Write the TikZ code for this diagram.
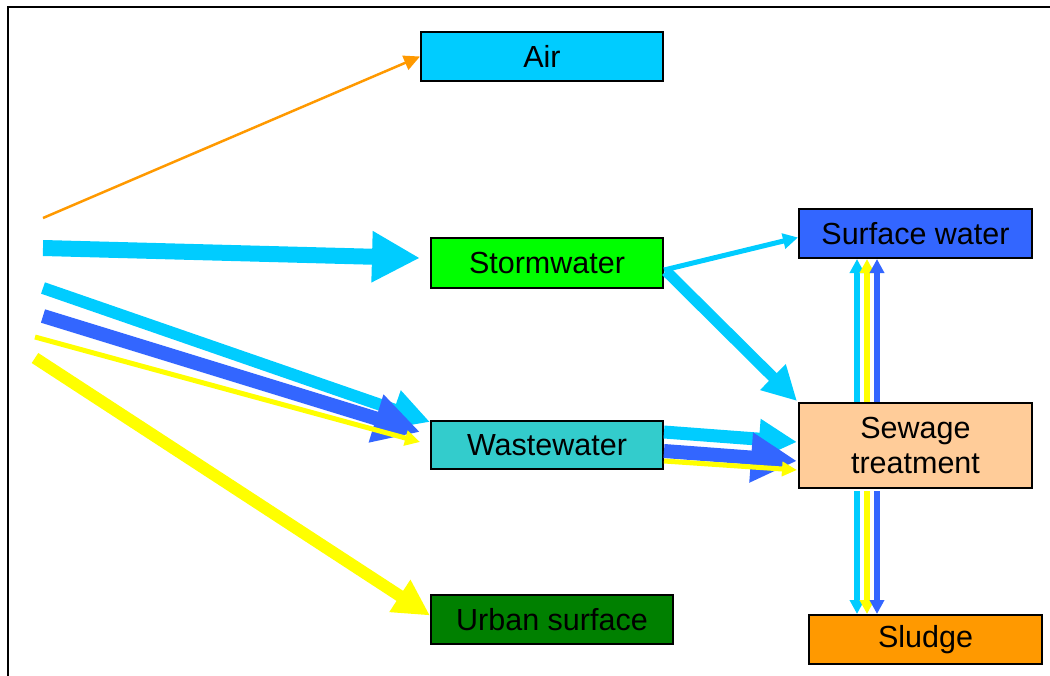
\documentclass[tikz,border=0pt]{standalone}
\usepackage{fontspec}
\setmainfont{Liberation Sans}
\usetikzlibrary{arrows.meta,calc}
\definecolor{cCyan}{HTML}{00CCFF}
\definecolor{cBlue}{HTML}{3366FF}
\definecolor{cYellow}{HTML}{FFFF00}
\definecolor{cOrange}{HTML}{FF9900}
\definecolor{cGreen}{HTML}{00FF00}
\definecolor{cDGreen}{HTML}{008000}
\definecolor{cTeal}{HTML}{33CCCC}
\definecolor{cPeach}{HTML}{FFCC99}
\tikzset{
  box/.style={draw=black, line width=2pt, rectangle, inner sep=0pt, align=center,
    font=\fontsize{30.5}{35}\selectfont},
  flow/.style n args={4}{draw=#1, line width=#2pt,
    -{Triangle[width=#3pt,length=#4pt]}, #1},
}
\begin{document}
\begin{tikzpicture}[x=1pt,y=-1pt]
\useasboundingbox (0,0) rectangle (1050,675);
\draw[line width=2pt] (8,680) -- (8,7) -- (1060,7);

\node[box, fill=cCyan, minimum width=242pt, minimum height=49pt] (air) at (542,56.5) {Air};
\node[box, fill=cGreen, minimum width=232pt, minimum height=50pt] (storm) at (547,263) {Stormwater};
\node[box, fill=cBlue, minimum width=233pt, minimum height=49pt] (surf) at (915.5,233.5) {Surface water};
\node[box, fill=cPeach, minimum width=233pt, minimum height=85pt] (sew) at (915.5,445.5) {Sewage\\treatment};
\node[box, fill=cTeal, minimum width=232pt, minimum height=48pt] (waste) at (547,445) {Wastewater};
\node[box, fill=cDGreen, minimum width=242pt, minimum height=49pt] (urban) at (552,619.5) {Urban surface};
\node[box, fill=cOrange, minimum width=233pt, minimum height=49pt] (sludge) at (925.5,639.5) {Sludge};

\coordinate (sO) at (43,218);
\coordinate (sC1) at (43,248);
\coordinate (sC2) at (43,288);
\coordinate (sB) at (43,316);
\coordinate (sY1) at (35,337);
\coordinate (sY2) at (35,358);

% sources
\draw[flow={cOrange}{2.5}{15}{16}] (sO) -- (air.west);
\draw[flow={cCyan}{16}{48}{48}] (sC1) -- ($(storm.west)+(-10,-5)$);
\draw[flow={cCyan}{12}{38}{38}] (sC2) -- ($(waste.north west)+(0,2)$);
\draw[flow={cBlue}{14}{47}{46}] (sB) -- ($(waste.west)+(-10,-13)$);
\draw[flow={cYellow}{5}{15}{15}] (sY1) -- ($(waste.west)+(-10,-3)$);
\draw[flow={cYellow}{12}{36}{36}] (sY2) -- ($(urban.west)+(0,-4)$);

% stormwater outflows
\draw[flow={cCyan}{5}{15}{15}] ($(storm.east)+(0,7)$) -- ($(surf.west)+(0,4)$);
\draw[flow={cCyan}{11}{34}{34}] ($(storm.east)+(2,8)$) -- ($(sew.north west)+(-1,-1)$);

% wastewater to sewage
\draw[flow={cCyan}{13}{38}{38}] ($(waste.east)+(0,-13)$) -- ($(sew.west)+(-1,-3.5)$);
\draw[flow={cBlue}{14}{47}{46}] ($(waste.east)+(0,6)$) -- ($(sew.west)+(-1,15.5)$);
\draw[flow={cYellow}{5}{14}{15}] ($(waste.east)+(0,16)$) -- ($(sew.west)+(-1,24.5)$);

% sewage up to surface water
\draw[flow={cCyan}{5.5}{14}{14}] ($(sew.north)+(-58.5,0)$) -- ($(surf.south)+(-58.5,0)$);
\draw[flow={cYellow}{5.5}{14}{14}] ($(sew.north)+(-48.5,0)$) -- ($(surf.south)+(-48.5,0)$);
\draw[flow={cBlue}{5.5}{14}{14}] ($(sew.north)+(-38.5,0)$) -- ($(surf.south)+(-38.5,0)$);

% sewage down to sludge
\draw[flow={cCyan}{5.5}{14}{14}] ($(sew.south)+(-58.5,2)$) -- ($(sludge.north)+(-68.5,0)$);
\draw[flow={cYellow}{5.5}{14}{14}] ($(sew.south)+(-48.5,2)$) -- ($(sludge.north)+(-58.5,0)$);
\draw[flow={cBlue}{5.5}{14}{14}] ($(sew.south)+(-38.5,2)$) -- ($(sludge.north)+(-48.5,0)$);
\end{tikzpicture}
\end{document}
